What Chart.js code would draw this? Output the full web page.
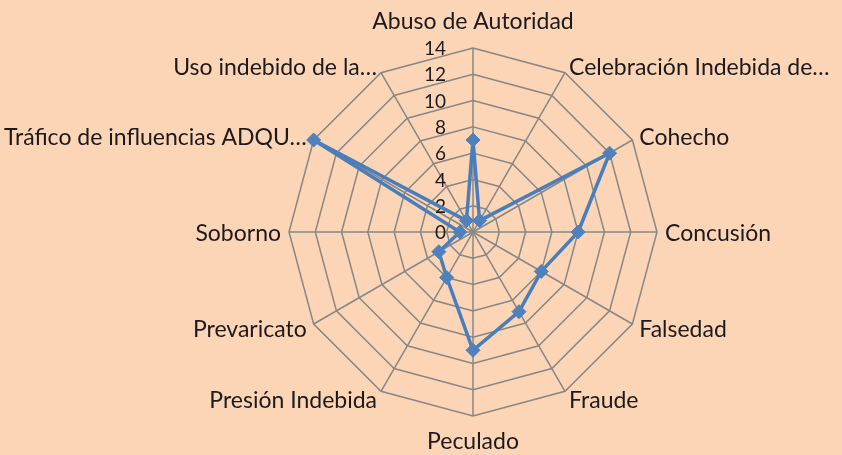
<!DOCTYPE html>
<html>
<head>
<meta charset="utf-8">
<script src="https://cdn.jsdelivr.net/npm/chart.js@4/dist/chart.umd.min.js"></script>
<style>
  html, body { margin: 0; padding: 0; background: #FBD5B5; }
  #radar { display: block; }
</style>
</head>
<body>
<canvas id="radar" width="842" height="455"></canvas>
<script>
const categories = [
  'Abuso de Autoridad',
  'Celebración Indebida de…',
  'Cohecho',
  'Concusión',
  'Falsedad',
  'Fraude',
  'Peculado',
  'Presión Indebida',
  'Prevaricato',
  'Soborno',
  'Tráfico de influencias ADQU…',
  'Uso indebido de la…'
];
const casos = [7, 1, 12, 8, 6, 7, 9, 4, 3, 1, 14, 1];
const tickValues = [0, 2, 4, 6, 8, 10, 12, 14];

const textColor = '#1c1a1c';
const gridColor = '#878787';
const lineBlue = '#4A7EBB';

// ticks a la izquierda del eje vertical, como en Excel
const tickPlugin = {
  id: 'tickLabels',
  beforeDatasetsDraw(chart) {
    const r = chart.scales.r;
    const ctx = chart.ctx;
    ctx.save();
    ctx.font = '19px Lato';
    ctx.fillStyle = textColor;
    ctx.textAlign = 'right';
    ctx.textBaseline = 'middle';
    tickValues.forEach(v => {
      const d = r.getDistanceFromCenterForValue(v);
      ctx.fillText(String(v), r.xCenter - 27, r.yCenter - d + 1);
    });
    ctx.restore();
  }
};

// etiquetas de categoria fuera del poligono
const labelPlugin = {
  id: 'catLabels',
  afterDraw(chart) {
    const r = chart.scales.r;
    const ctx = chart.ctx;
    ctx.save();
    ctx.font = '23px Lato';
    ctx.fillStyle = textColor;
    ctx.textBaseline = 'middle';
    categories.forEach((label, i) => {
      const p = r.getPointPosition(i, r.drawingArea + 8);
      const dx = p.x - r.xCenter;
      let y = p.y;
      if (Math.abs(dx) < 1) {
        ctx.textAlign = 'center';
        y += (p.y < r.yCenter ? -1 : 1) * 18;
      } else {
        ctx.textAlign = dx > 0 ? 'left' : 'right';
        y += 2;
      }
      ctx.fillText(label, p.x, y);
    });
    ctx.restore();
  }
};

new Chart(document.getElementById('radar').getContext('2d'), {
  type: 'radar',
  data: {
    labels: categories,
    datasets: [{
      label: 'Casos',
      data: casos,
      borderColor: lineBlue,
      borderWidth: 3.5,
      backgroundColor: 'rgba(0,0,0,0)',
      fill: false,
      pointStyle: 'rectRot',
      pointRadius: 7,
      pointBackgroundColor: '#4F81BD',
      pointBorderColor: '#4F81BD',
      pointBorderWidth: 1,
      tension: 0
    }]
  },
  options: {
    responsive: false,
    devicePixelRatio: 1,
    animation: false,
    layout: {
      padding: { top: 48, bottom: 39, left: 289, right: 185 }
    },
    plugins: {
      legend: { display: false },
      tooltip: { enabled: false }
    },
    scales: {
      r: {
        min: 0,
        max: 14,
        beginAtZero: true,
        ticks: { stepSize: 2, display: false },
        grid: { color: gridColor, lineWidth: 1.5 },
        angleLines: { color: gridColor, lineWidth: 1.5 },
        pointLabels: { display: false }
      }
    }
  },
  plugins: [tickPlugin, labelPlugin]
});
</script>
</body>
</html>
